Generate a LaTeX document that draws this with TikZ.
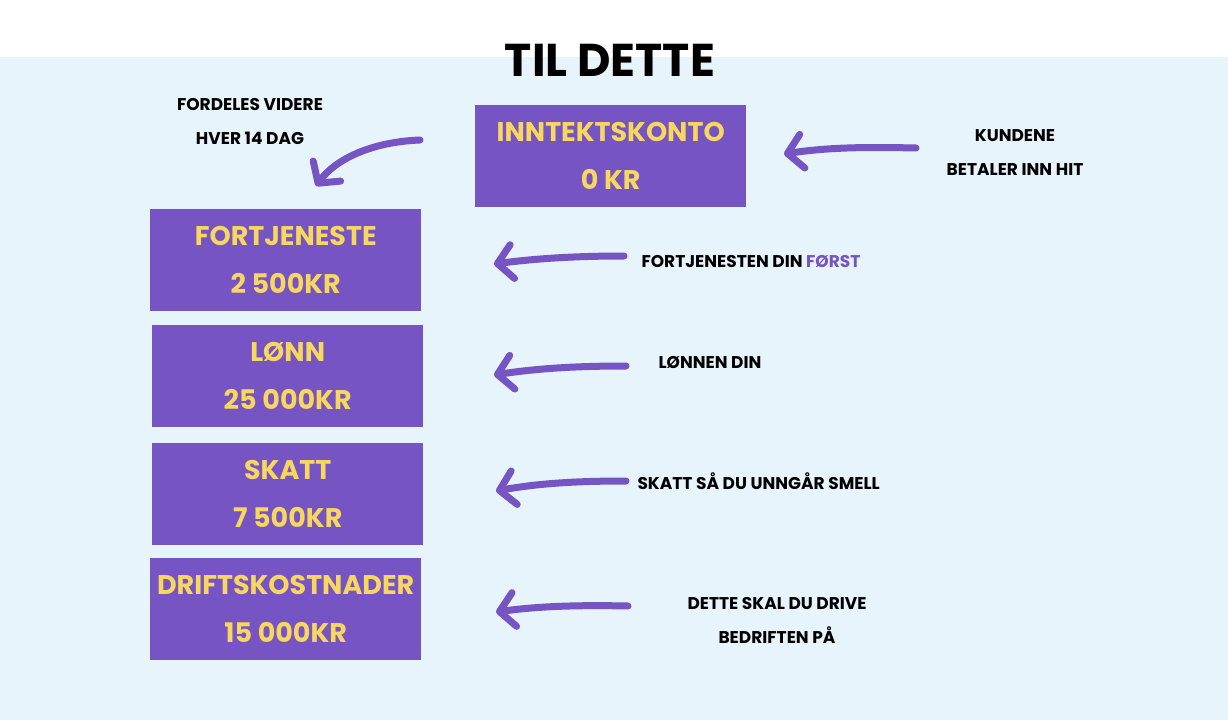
\documentclass[tikz,border=0pt]{standalone}
\usepackage{fontspec}
\setmainfont{Poppins}
\usetikzlibrary{arrows.meta}
\definecolor{bg}{HTML}{E8F4FB}
\definecolor{purp}{HTML}{7654C3}
\definecolor{yel}{HTML}{F7D75E}
\tikzset{
 box/.style={fill=purp,draw=none,minimum width=271pt,minimum height=102pt,inner sep=0,anchor=north west,text=yel,font=\fontsize{27}{48}\selectfont\bfseries,align=center},
 lbl/.style={font=\fontsize{17}{34}\selectfont\bfseries,align=center,text=black},
 arr/.style={purp,line width=7pt,line cap=round,-{Straight Barb[length=15pt,width=34pt,line width=7pt,round]}}
}
\begin{document}
\begin{tikzpicture}[x=1pt,y=-1pt]
\useasboundingbox (0,0) rectangle (1228,720);
\fill[bg] (0,57) rectangle (1228,720);
\node[font=\fontsize{46}{50}\selectfont\bfseries] (title) at (610,60) {TIL DETTE};
\node[box] (inn) at (475,105) {INNTEKTSKONTO\\0 KR};
\node[box] (fort) at (150,209) {FORTJENESTE\\2 500KR};
\node[box] (lonn) at (152,325) {LØNN\\25 000KR};
\node[box] (skatt) at (152,443) {SKATT\\7 500KR};
\node[box] (drift) at (150,558) {DRIFTSKOSTNADER\\15 000KR};
\node[lbl] (l0) at (250,121) {FORDELES VIDERE\\HVER 14 DAG};
\node[lbl] (l1) at (1015,153) {KUNDENE\\BETALER INN HIT};
\node[lbl,anchor=west] (l2) at (638,262) {FORTJENESTEN DIN \textcolor{purp}{FØRST}};
\node[lbl,anchor=west] (l3) at (655,363) {LØNNEN DIN};
\node[lbl,anchor=west] (l4) at (634,481) {SKATT SÅ DU UNNGÅR SMELL};
\node[lbl] (l5) at (777,620) {DETTE SKAL DU DRIVE\\BEDRIFTEN PÅ};
\coordinate (a0s) at (420,140); \coordinate (a0e) at (316,186);
\coordinate (a1s) at (916,148); \coordinate (a1e) at (784,154);
\coordinate (a2s) at (624,256); \coordinate (a2e) at (494,264);
\coordinate (a3s) at (626,366); \coordinate (a3e) at (494,375);
\coordinate (a4s) at (626,481); \coordinate (a4e) at (496,491);
\coordinate (a5s) at (628,606); \coordinate (a5e) at (496,612);
\draw[arr] (a0s) .. controls (370,142) and (335,160) .. (a0e);
\draw[arr] (a1s) .. controls (870,147) and (830,147) .. (a1e);
\draw[arr] (a2s) .. controls (580,256) and (540,258) .. (a2e);
\draw[arr] (a3s) .. controls (580,366) and (540,368) .. (a3e);
\draw[arr] (a4s) .. controls (580,481) and (540,483) .. (a4e);
\draw[arr] (a5s) .. controls (580,605) and (540,606) .. (a5e);
\end{tikzpicture}
\end{document}
